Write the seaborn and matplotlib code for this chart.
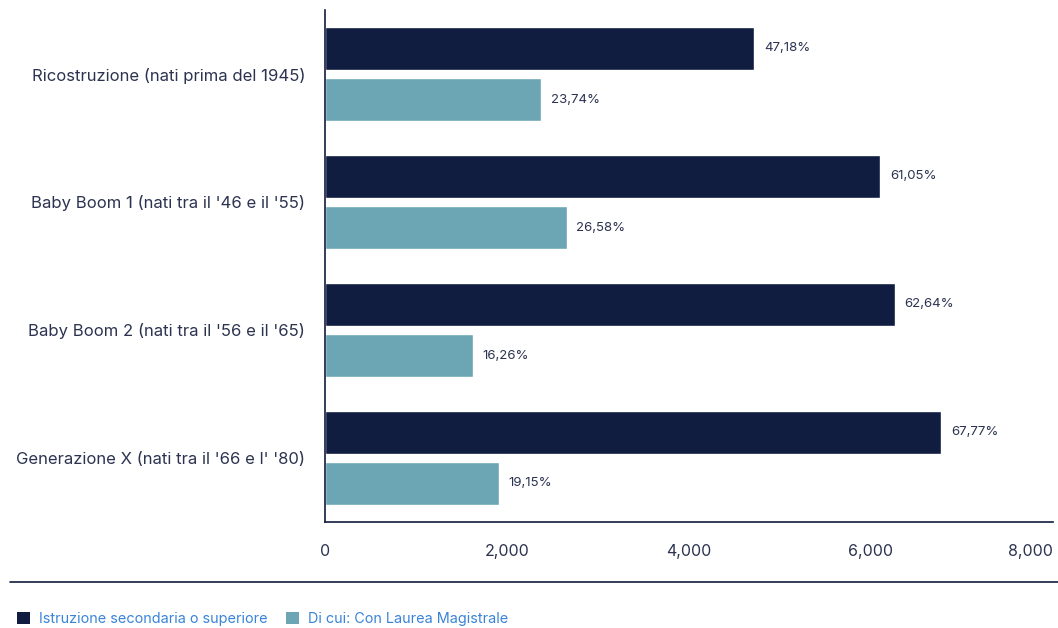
import pandas as pd
import seaborn as sns
import matplotlib.pyplot as plt
from matplotlib.lines import Line2D
from matplotlib.patches import Patch
from matplotlib.ticker import FuncFormatter

# --- DATI ---
generazioni = [
    "Ricostruzione (nati prima del 1945)",
    "Baby Boom 1 (nati tra il '46 e il '55)",
    "Baby Boom 2 (nati tra il '56 e il '65)",
    "Generazione X (nati tra il '66 e l' '80)",
]
serie = ["Istruzione secondaria o superiore", "Di cui: Con Laurea Magistrale"]
secondaria = [4718, 6105, 6264, 6777]
laurea = [2374, 2658, 1626, 1915]
etichette_secondaria = ["47,18%", "61,05%", "62,64%", "67,77%"]
etichette_laurea = ["23,74%", "26,58%", "16,26%", "19,15%"]

colori = {serie[0]: "#101c40", serie[1]: "#6ca6b4"}
testo = "#2b3350"

df = pd.DataFrame({
    "Generazione": generazioni * 2,
    "Serie": [serie[0]] * 4 + [serie[1]] * 4,
    "Valore": secondaria + laurea,
})

sns.set_style("white")
plt.rcParams["font.family"] = ["Inter", "DejaVu Sans"]

fig = plt.figure(figsize=(10.58, 6.28), dpi=100)
ax = fig.add_axes([0.307, 0.169, 0.688, 0.815])

sns.barplot(data=df, y="Generazione", x="Valore", hue="Serie", order=generazioni,
            hue_order=serie, palette=colori, orient="h", width=0.8, gap=0.16,
            saturation=1, legend=False, ax=ax)

for cont, lab in zip(ax.containers, [etichette_secondaria, etichette_laurea]):
    ax.bar_label(cont, labels=lab, padding=7, fontsize=9.5, color=testo)

ax.set_xlim(0, 8000)
ax.set_ylim(3.5, -0.5)
ax.set_xticks([0, 2000, 4000, 6000, 8000])
ax.xaxis.set_major_formatter(FuncFormatter(lambda v, p: f"{int(v):,}"))
ax.set_xlabel("")
ax.set_ylabel("")
ax.tick_params(axis="x", length=0, pad=16, labelsize=11.5, labelcolor=testo)
ax.tick_params(axis="y", length=0, pad=14, labelsize=12.0, labelcolor=testo)
# l'ultima etichetta dell'asse x resta dentro la figura
ax.get_xticklabels()[-1].set_horizontalalignment("right")
for s in ["top", "right"]:
    ax.spines[s].set_visible(False)
for s in ["left", "bottom"]:
    ax.spines[s].set_color("#101c40")
    ax.spines[s].set_linewidth(1.2)

# linea separatrice sopra la legenda
fig.add_artist(Line2D([0.009, 1.0], [0.073, 0.073], transform=fig.transFigure,
                      color="#101c40", linewidth=1.2))

handles = [Patch(facecolor=colori[s], edgecolor="none") for s in serie]
leg = fig.legend(handles, serie, loc="center left", bbox_to_anchor=(0.004, 0.014),
                 ncol=2, frameon=False, fontsize=10.4, handlelength=0.9, handleheight=0.9,
                 handletextpad=0.6, columnspacing=1.3)
for t in leg.get_texts():
    t.set_color("#3a84d8")

plt.savefig("out.png", dpi=100)
plt.close(fig)
